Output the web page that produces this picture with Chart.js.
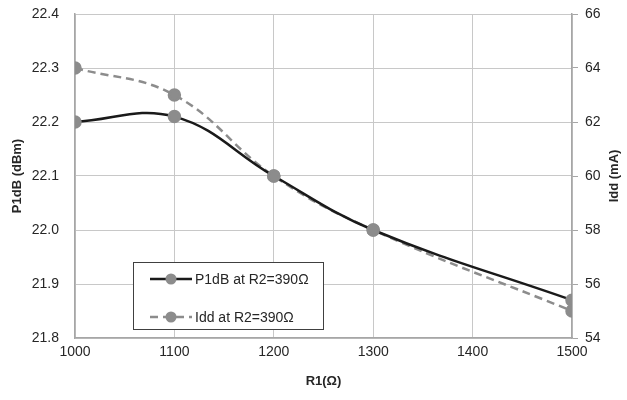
<!DOCTYPE html>
<html>
<head>
<meta charset="utf-8">
<script src="https://cdn.jsdelivr.net/npm/chart.js@4.4.1/dist/chart.umd.min.js"></script>
<style>
  html, body { margin: 0; padding: 0; background: #fff; }
  #wrap { width: 627px; height: 400px; }
</style>
</head>
<body>
<div id="wrap"><canvas id="chart" width="627" height="400"></canvas></div>
<script>
// data
const r1Values = [1000, 1100, 1200, 1300, 1500];
const p1dbValues = [22.2, 22.21, 22.1, 22.0, 21.87];
const iddValues = [64, 63, 60, 58, 55];
const seriesLabels = ['P1dB at R2=390\u03A9', 'Idd at R2=390\u03A9'];
const axisTitles = ['R1(\u03A9)', 'P1dB (dBm)', 'Idd (mA)'];

const FONT = "'Liberation Sans', 'DejaVu Sans', sans-serif";
const textColor = '#262626';
const gridColor = '#c8c8c8';
const axisColor = '#a6a6a6';
const markerColor = '#8c8c8c';

// legend box inside the plot + both y titles read bottom-to-top
const extras = {
	id: 'extras',
	afterDraw(chart) {
		const ctx = chart.ctx;
		const area = chart.chartArea;
		const x = 133, y = 262, w = 190, h = 67;
		ctx.save();
		ctx.fillStyle = '#fff';
		ctx.fillRect(x, y, w, h);
		ctx.strokeStyle = '#404040';
		ctx.lineWidth = 1;
		ctx.strokeRect(x + 0.5, y + 0.5, w, h);
		chart.data.datasets.forEach((ds, i) => {
			const cy = y + 17 + i * 38;
			ctx.strokeStyle = ds.borderColor;
			ctx.lineWidth = 2.5;
			ctx.setLineDash(ds.borderDash || []);
			ctx.beginPath();
			ctx.moveTo(x + 17, cy);
			ctx.lineTo(x + 59, cy);
			ctx.stroke();
			ctx.setLineDash([]);
			ctx.fillStyle = markerColor;
			ctx.beginPath();
			ctx.arc(x + 38, cy, 5.5, 0, Math.PI * 2);
			ctx.fill();
			ctx.fillStyle = textColor;
			ctx.font = '14px ' + FONT;
			ctx.textBaseline = 'middle';
			ctx.fillText(ds.label, x + 62, cy + 1);
		});

		ctx.font = 'bold 13px ' + FONT;
		ctx.textAlign = 'center';
		ctx.textBaseline = 'middle';
		ctx.fillStyle = textColor;
		const midY = (area.top + area.bottom) / 2;
		[[17, axisTitles[1]], [614, axisTitles[2]]].forEach(([tx, t]) => {
			ctx.save();
			ctx.translate(tx, midY);
			ctx.rotate(-Math.PI / 2);
			ctx.fillText(t, 0, 0);
			ctx.restore();
		});
		ctx.fillText(axisTitles[0], (area.left + area.right) / 2, 381);
		ctx.restore();
	}
};

function fitY(width) {
	return function (s) {
		s.width = width;
		s.paddingTop = 0;
		s.paddingBottom = 0;
	};
}

new Chart(document.getElementById('chart'), {
	type: 'line',
	data: {
		datasets: [{
			label: seriesLabels[0],
			data: r1Values.map((r, i) => ({ x: r, y: p1dbValues[i] })),
			yAxisID: 'y',
			borderColor: '#1a1a1a',
			borderWidth: 2.5,
			tension: 0.4,
			pointRadius: 5.5,
			pointBackgroundColor: markerColor,
			pointBorderColor: markerColor,
			order: 1
		}, {
			label: seriesLabels[1],
			data: r1Values.map((r, i) => ({ x: r, y: iddValues[i] })),
			yAxisID: 'y1',
			borderColor: '#8c8c8c',
			borderWidth: 2.5,
			borderDash: [8, 5],
			tension: 0.4,
			pointRadius: 5.5,
			pointBackgroundColor: markerColor,
			pointBorderColor: markerColor,
			order: 2
		}]
	},
	options: {
		responsive: false,
		animation: false,
		layout: { padding: { top: 14, right: 0, left: 0, bottom: 0 } },
		plugins: {
			legend: { display: false },
			tooltip: { enabled: false }
		},
		scales: {
			x: {
				type: 'linear',
				min: 1000,
				max: 1500,
				ticks: { stepSize: 100, color: textColor, font: { family: FONT, size: 14 }, padding: 6,
					callback: v => String(v) },
				grid: { color: gridColor, drawTicks: false },
				border: { color: axisColor, width: 1.5 },
				afterFit(s) { s.height = 62; s.paddingLeft = 0; s.paddingRight = 0; }
			},
			y: {
				position: 'left',
				min: 21.8,
				max: 22.4,
				ticks: { stepSize: 0.1, color: textColor, font: { family: FONT, size: 14 }, padding: 16,
					callback: v => v.toFixed(1) },
				grid: { color: gridColor, drawTicks: false },
				border: { color: axisColor, width: 1.5 },
				afterFit: fitY(75)
			},
			y1: {
				position: 'right',
				min: 54,
				max: 66,
				ticks: { stepSize: 2, color: textColor, font: { family: FONT, size: 14 }, padding: 7 },
				grid: { drawOnChartArea: false, color: axisColor, tickLength: 6 },
				border: { color: axisColor, width: 1.5 },
				afterFit: fitY(55)
			}
		}
	},
	plugins: [extras]
});
</script>
</body>
</html>
